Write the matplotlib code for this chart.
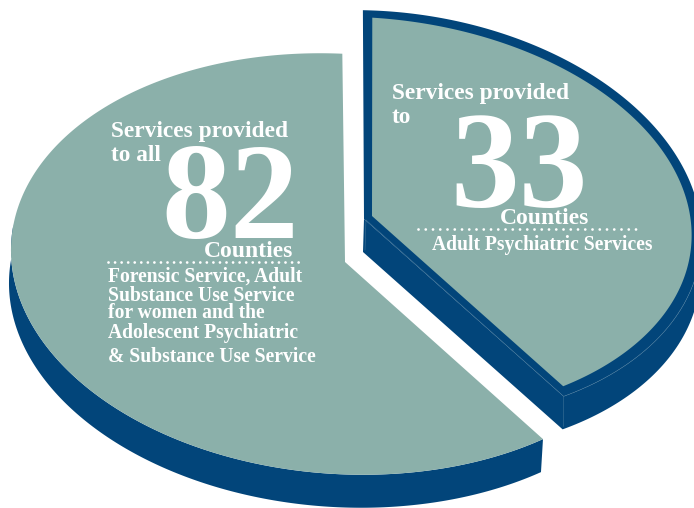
import numpy as np
import matplotlib
matplotlib.use("Agg")
import matplotlib.pyplot as plt

# values
county_counts = ["82", "33"]
slice_degrees = [217.7, 151.1]
intro_left = ["Services provided", "to all"]
intro_right = ["Services provided", "to"]
counties_word = "Counties"
services_left = ["Forensic Service, Adult", "Substance Use Service", "for women and the",
                 "Adolescent Psychiatric", "& Substance Use Service"]
services_right = ["Adult Psychiatric Services"]

TEAL = "#8BB0AA"
NAVY = "#02457A"
SEAM = "#3F7397"
FONT = "Liberation Serif"


def rim(cx, cy, a, b, tilt, t0, t1, n=300):
    # points on a tilted ellipse, y pointing down the page
    t = np.radians(np.linspace(t0, t1, n))
    th = np.radians(tilt)
    x = cx + a * np.cos(t) * np.cos(th) - b * np.sin(t) * np.sin(th)
    y = cy + a * np.cos(t) * np.sin(th) + b * np.sin(t) * np.cos(th)
    return x, y


def side(ax, x, y, dx, dy, color):
    # strip between an edge and the same edge pushed down the page
    ax.fill(np.r_[x, (x + dx)[::-1]], np.r_[y, (y + dy)[::-1]], color=color, lw=0)


def label(ax, x, y, s, size, ha="left"):
    ax.text(x, y, s, color="white", fontsize=size, fontweight="bold", family=FONT,
            ha=ha, va="baseline")


fig = plt.figure(figsize=(6.94, 5.08), dpi=100)
ax = fig.add_axes([0, 0, 1, 1])
ax.set_xlim(0, 694)
ax.set_ylim(508, 0)
ax.axis("off")

# big slice
big_start = 49.9
bx, by = rim(341.5, 264, 331, 210, 4, big_start, big_start + slice_degrees[0])
front = np.arange(len(bx)) < 0.62 * len(bx)
side(ax, bx[front], by[front], -2, 33, NAVY)
ax.fill(np.r_[345, bx], np.r_[262, by], color=TEAL, lw=0)

# pulled-out slice, with a navy rim round the teal
outer = (389.9, 214.7, 313.2, 202.3, 7.3)
inner = (372.7, 215.7, 319.9, 197.4, 5.7)
small_start = -99.7
small_end = small_start + slice_degrees[1]
sx, sy = rim(*outer, small_start, small_end)
fx, fy = rim(*outer, -5, small_end)
side(ax, np.r_[364, fx[::-1]], np.r_[219, fy[::-1]], -1, 33, NAVY)
ax.fill(np.r_[364, sx], np.r_[219, sy], color=NAVY, lw=0)
ix, iy = rim(*inner, -93.6, 49.8)
ax.fill(np.r_[372, ix], np.r_[216, iy], color=TEAL, lw=0)

# thin seams on the navy edge
ax.plot([366, sx[-1], sx[-1]], [220, sy[-1], sy[-1] + 30], color=SEAM, lw=0.4)
ax.plot([366, 365], [220, 250], color=SEAM, lw=0.4)
ax.plot(fx, fy, color=SEAM, lw=0.4)

# left text
label(ax, 111, 137, intro_left[0], 16.8)
label(ax, 111, 161, intro_left[1], 16.8)
label(ax, 230, 238, county_counts[0], 99, ha="center")
label(ax, 204, 257, counties_word, 17)
ax.plot([108, 302], [262, 262], color="white", lw=2, dash_capstyle="round",
        linestyle=(0, (0.01, 2.35)))
for s, base in zip(services_left, [282, 301, 318, 338, 362]):
    label(ax, 108, base, s, 14.1)

# right text
label(ax, 392, 99, intro_right[0], 16.8)
label(ax, 392, 123, intro_right[1], 16.8)
label(ax, 519, 207, county_counts[1], 99, ha="center")
label(ax, 500, 224, counties_word, 17)
ax.plot([418, 638], [229, 229], color="white", lw=2, dash_capstyle="round",
        linestyle=(0, (0.01, 2.6)))
label(ax, 432, 250, services_right[0], 14.1)

fig.savefig("out.png", dpi=100)
